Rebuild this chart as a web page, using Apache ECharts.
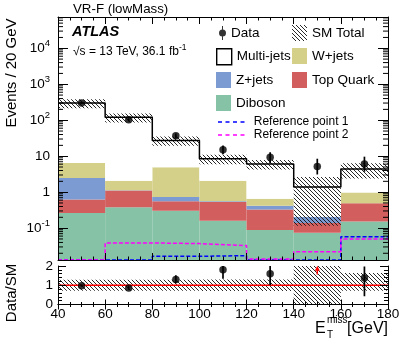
<!DOCTYPE html>
<html>
<head>
<meta charset="utf-8">
<script src="https://cdn.jsdelivr.net/npm/echarts@6/dist/echarts.min.js"></script>
<style>
html, body { margin: 0; padding: 0; background: #fff; }
#chart { width: 411px; height: 339px; }
</style>
</head>
<body>
<div id="chart"></div>
<script>
// bins of E_T^miss [GeV]
const binEdges = [40, 60, 80, 100, 120, 140, 160, 180];

// backgrounds (events per bin), stacked bottom -> top
const diboson  = [0.264, 0.378, 0.306, 0.161, 0.088, 0.074, 0.152];
const topQuark = [0.356, 0.742, 0.25, 0.372, 0.239, 0.065, 0.338];
const zjets    = [1.86, 0.01, 0.18, 0.022, 0.093, 0.067, 0.005];
const wjets    = [3.99, 0.96, 4.15, 1.53, 0.24, 0.0, 0.49];
const multijet = [293.5, 117.9, 22.6, 6.4, 5.4, 1.18, 3.4];
const smErr    = [84, 34, 8, 2.5, 1.8, 1.27, 2.0];

// data
const dataVals  = [300, 103, 37, 15.2, 9.3, 5.2, 6.1];
const dataErrUp = [17, 10, 6, 4.5, 3.5, 3.3, 3.6];
const dataErrDn = [17, 10, 6, 3.8, 2.9, 2.1, 2.4];

// signal reference points
const ref1 = [0.013, 0.013, 0.0165, 0.0172, 0.013, 0.013, 0.058];
const ref2 = [0.013, 0.0388, 0.0371, 0.0327, 0.0139, 0.0222, 0.050];

// ratio panel
const ratioVals   = [0.98, 0.86, 1.30, 1.80, 1.60, 3.7, 1.38];
const ratioErrUp  = [0.06, 0.09, 0.22, 0.46, 0.45, 0.6, 0.6];
const ratioErrDn  = [0.06, 0.09, 0.20, 0.46, 0.60, 0.6, 0.95];
const ratioBandUp = [0.28, 0.28, 0.28, 0.30, 0.30, 1.0, 0.63];
const ratioBandDn = [0.28, 0.28, 0.28, 0.30, 0.30, 1.0, 0.28];

const yMin = 0.013, yMax = 74000;
const rMin = 0, rMax = 2;
const FONT = 'Liberation Sans';
const nBins = binEdges.length - 1;
const centers = binEdges.slice(0, -1).map((e, i) => (e + binEdges[i + 1]) / 2);

// hatch pattern for the uncertainty bands
const hatch = (() => {
  const s = 4;
  const c = document.createElement('canvas');
  c.width = s; c.height = s;
  const g = c.getContext('2d');
  g.strokeStyle = '#111'; g.lineWidth = 0.9;
  g.beginPath();
  g.moveTo(-1, -1); g.lineTo(s + 1, s + 1);
  g.moveTo(-1, s - 1); g.lineTo(1, s + 1);
  g.moveTo(s - 1, -1); g.lineTo(s + 1, 1);
  g.stroke();
  return c;
})();
const hatchFill = { image: hatch, repeat: 'repeat' };

const dashIcon = 'path://M0,0h4v1.6h-4z M7.5,0h4v1.6h-4z M15,0h4v1.6h-4z M22.5,0h4v1.6h-4z';

const boxRenderer = fill => (params, api) => {
  const a = api.coord([api.value(0), api.value(3)]);
  const b = api.coord([api.value(1), api.value(2)]);
  return { type: 'rect', shape: { x: a[0], y: a[1], width: b[0] - a[0], height: b[1] - a[1] }, style: { fill: fill } };
};

const errRenderer = (params, api) => {
  const lo = api.coord([api.value(0), api.value(1)]);
  const hi = api.coord([api.value(0), api.value(2)]);
  return { type: 'line', shape: { x1: lo[0], y1: lo[1], x2: hi[0], y2: hi[1] }, style: { stroke: '#000', lineWidth: 1.7 } };
};

const arrowRenderer = (params, api) => {
  const x = api.value(0);
  const p0 = api.coord([x, api.value(1)]);
  const p1 = api.coord([x, api.value(2)]);
  return { type: 'group', children: [
    { type: 'line', shape: { x1: p0[0], y1: p0[1], x2: p1[0], y2: p1[1] + 3 }, style: { stroke: '#ff0000', lineWidth: 1.5 } },
    { type: 'polygon', shape: { points: [[p1[0] - 2.5, p1[1] + 4], [p1[0] + 2.5, p1[1] + 4], [p1[0], p1[1] - 1]] }, style: { fill: '#ff0000' } }
  ] };
};

const minorRenderer = (params, api) => {
  const cs = params.coordSys;
  const y = api.coord([binEdges[0], api.value(1)])[1];
  return { type: 'group', children: [
    { type: 'line', shape: { x1: cs.x, y1: y, x2: cs.x + 5, y2: y }, style: { stroke: '#000', lineWidth: 1 } },
    { type: 'line', shape: { x1: cs.x + cs.width - 5, y1: y, x2: cs.x + cs.width, y2: y }, style: { stroke: '#000', lineWidth: 1 } }
  ] };
};

// stacked backgrounds
const stackComps = [
  { name: 'Diboson', vals: diboson, color: '#86c2a5' },
  { name: 'Top Quark', vals: topQuark, color: '#d25e5e' },
  { name: 'Z+jets', vals: zjets, color: '#7b9bd2' },
  { name: 'W+jets', vals: wjets, color: '#d4d08a' },
  { name: 'Multi-jets', vals: multijet, color: '#ffffff' }
];
const cum = new Array(nBins).fill(0);
const stackSeries = stackComps.map(c => {
  const rows = [];
  for (let i = 0; i < nBins; i++) {
    const lo = cum[i] > 0 ? cum[i] : yMin;
    cum[i] += c.vals[i];
    rows.push([binEdges[i], binEdges[i + 1], lo, cum[i]]);
  }
  return {
    type: 'custom', name: c.name, xAxisIndex: 0, yAxisIndex: 0, clip: true, silent: true, z: 2,
    itemStyle: { color: c.color }, renderItem: boxRenderer(c.color), data: rows
  };
});
const smTotal = cum.slice();

const stepData = vals => vals.map((v, i) => [binEdges[i], v]).concat([[binEdges[nBins], vals[nBins - 1]]]);

const minorVals = [];
for (let e = -2; e <= 4; e++) {
  for (let m = 2; m <= 9; m++) {
    const v = m * Math.pow(10, e);
    if (v > yMin && v < yMax) minorVals.push([binEdges[0], v]);
  }
}

const supLabel = v => {
  const e = Math.round(Math.log10(v));
  if (e === 0) return '1';
  if (e === 1) return '10';
  return '10{sup|' + e + '}';
};

const tickText = { fontSize: 13.5, fontFamily: FONT, color: '#000' };

const xAxisBase = (grid, pos, showLabel, major, minor) => ({
  type: 'value', gridIndex: grid, position: pos, min: binEdges[0], max: binEdges[nBins], interval: 20, z: 10,
  axisLine: { show: true, lineStyle: { color: '#000', width: 1 } },
  axisTick: { show: true, inside: true, length: major, lineStyle: { color: '#000' } },
  minorTick: { show: true, splitNumber: 4, length: minor, lineStyle: { color: '#000' } },
  axisLabel: Object.assign({ show: showLabel, margin: 3 }, tickText),
  splitLine: { show: false }
});

const legendAt = (item, left, top, extra) => Object.assign({
  data: [item], left: left, top: top, itemWidth: 15, itemHeight: 16, padding: 0, selectedMode: false,
  textStyle: { fontSize: 13.5, fontFamily: FONT, color: '#000' }
}, extra || {});

const refLegendText = { fontSize: 12, fontFamily: FONT, color: '#000', padding: [0, 0, 0, 4] };

const option = {
  animation: false,
  backgroundColor: '#fff',
  grid: [
    { left: 58, top: 17, width: 330, height: 243 },
    { left: 58, top: 266, width: 330, height: 38.5 }
  ],
  xAxis: [
    xAxisBase(0, 'bottom', false, 7, 3.5),
    xAxisBase(0, 'top', false, 7, 3.5),
    xAxisBase(1, 'bottom', true, 5, 2.5),
    xAxisBase(1, 'top', false, 5, 2.5)
  ],
  yAxis: [
    {
      type: 'log', logBase: 10, gridIndex: 0, position: 'left', min: yMin, max: yMax, z: 10,
      axisLine: { show: true, lineStyle: { color: '#000', width: 1 } },
      axisTick: { show: true, inside: true, length: 10, lineStyle: { color: '#000' } },
      axisLabel: Object.assign({
        showMinLabel: false, showMaxLabel: false, margin: 8,
        formatter: supLabel,
        rich: { sup: { fontSize: 9.5, fontFamily: FONT, color: '#000', padding: [0, 0, 9, 0] } }
      }, tickText),
      splitLine: { show: false }
    },
    {
      type: 'log', logBase: 10, gridIndex: 0, position: 'right', min: yMin, max: yMax, z: 10,
      axisLine: { show: true, lineStyle: { color: '#000', width: 1 } },
      axisTick: { show: true, inside: true, length: 10, lineStyle: { color: '#000' } },
      axisLabel: { show: false },
      splitLine: { show: false }
    },
    {
      type: 'value', gridIndex: 1, position: 'left', min: rMin, max: rMax, interval: 1, z: 10,
      axisLine: { show: true, lineStyle: { color: '#000', width: 1 } },
      axisTick: { show: true, inside: true, length: 8, lineStyle: { color: '#000' } },
      minorTick: { show: true, splitNumber: 5, length: 4, lineStyle: { color: '#000' } },
      axisLabel: Object.assign({ margin: 5 }, tickText),
      splitLine: { show: false }
    },
    {
      type: 'value', gridIndex: 1, position: 'right', min: rMin, max: rMax, interval: 1, z: 10,
      axisLine: { show: true, lineStyle: { color: '#000', width: 1 } },
      axisTick: { show: true, inside: true, length: 8, lineStyle: { color: '#000' } },
      minorTick: { show: true, splitNumber: 5, length: 4, lineStyle: { color: '#000' } },
      axisLabel: { show: false },
      splitLine: { show: false }
    }
  ],
  legend: [
    legendAt({ name: 'Data', icon: 'path://M0,7a3.5,3.5 0 1,0 7,0a3.5,3.5 0 1,0 -7,0z M3,0h1v3.6h-1z M3,10.4h1v3.6h-1z', itemStyle: { color: '#000' } }, 219, 26, { itemWidth: 7, itemHeight: 14 }),
    legendAt({ name: 'SM Total', icon: 'rect', itemStyle: { color: hatchFill } }, 292, 25),
    legendAt({ name: 'Multi-jets', icon: 'rect', itemStyle: { color: '#fff', borderColor: '#000', borderWidth: 1.4 } }, 216, 48),
    legendAt({ name: 'W+jets', icon: 'rect', itemStyle: { color: '#d4d08a' } }, 292, 48),
    legendAt({ name: 'Z+jets', icon: 'rect', itemStyle: { color: '#7b9bd2' } }, 216, 72),
    legendAt({ name: 'Top Quark', icon: 'rect', itemStyle: { color: '#d25e5e' } }, 292, 72),
    legendAt({ name: 'Diboson', icon: 'rect', itemStyle: { color: '#86c2a5' } }, 216, 95),
    legendAt({ name: 'Reference point 1', icon: dashIcon, itemStyle: { color: '#0000ff' } }, 218, 116, { itemWidth: 27, itemHeight: 1.6, textStyle: refLegendText }),
    legendAt({ name: 'Reference point 2', icon: dashIcon, itemStyle: { color: '#ff00ff' } }, 218, 129, { itemWidth: 27, itemHeight: 1.6, textStyle: refLegendText })
  ],
  graphic: [
    { type: 'text', x: 73, y: 9, style: { text: 'VR-F (lowMass)', fontSize: 13.3, fontFamily: FONT, fill: '#000', align: 'left', verticalAlign: 'middle' } },
    { type: 'text', x: 72, y: 32, style: { text: 'ATLAS', fontSize: 14.5, fontWeight: 'bold', fontStyle: 'italic', fontFamily: FONT, fill: '#000', align: 'left', verticalAlign: 'middle' } },
    { type: 'text', x: 73, y: 52, style: { text: '\u221As = 13 TeV, 36.1 fb{sup|-1}', fontSize: 12, fontFamily: FONT, fill: '#000', align: 'left', verticalAlign: 'middle',
      rich: { sup: { fontSize: 8.5, fontFamily: FONT, fill: '#000', padding: [0, 0, 8, 0] } } } },
    { type: 'text', x: 12, y: 73, rotation: Math.PI / 2, style: { text: 'Events / 20 GeV', fontSize: 15, fontFamily: FONT, fill: '#000', align: 'center', verticalAlign: 'middle' } },
    { type: 'text', x: 12, y: 293, rotation: Math.PI / 2, style: { text: 'Data/SM', fontSize: 15, fontFamily: FONT, fill: '#000', align: 'center', verticalAlign: 'middle' } },
    { type: 'text', x: 315, y: 328.5, style: { text: 'E', fontSize: 16, fontFamily: FONT, fill: '#000', align: 'left', verticalAlign: 'middle' } },
    { type: 'text', x: 327, y: 320, style: { text: 'miss', fontSize: 10, fontFamily: FONT, fill: '#000', align: 'left', verticalAlign: 'middle' } },
    { type: 'text', x: 327, y: 335, style: { text: 'T', fontSize: 10, fontFamily: FONT, fill: '#000', align: 'left', verticalAlign: 'middle' } },
    { type: 'text', x: 388, y: 328.5, style: { text: '[GeV]', fontSize: 16, fontFamily: FONT, fill: '#000', align: 'right', verticalAlign: 'middle' } }
  ],
  series: stackSeries.concat([
    {
      type: 'custom', name: 'SM Total', xAxisIndex: 0, yAxisIndex: 0, clip: true, silent: true, z: 3,
      itemStyle: { color: '#000' }, renderItem: boxRenderer(hatchFill),
      data: smTotal.map((t, i) => [binEdges[i], binEdges[i + 1], Math.max(yMin, t - smErr[i]), t + smErr[i]])
    },
    {
      type: 'line', name: 'SM line', xAxisIndex: 0, yAxisIndex: 0, step: 'end', symbol: 'none', z: 4, silent: true,
      lineStyle: { color: '#000', width: 1.5 }, data: stepData(smTotal)
    },
    {
      type: 'line', name: 'Reference point 1', xAxisIndex: 0, yAxisIndex: 0, step: 'end', symbol: 'none', z: 4, silent: true,
      itemStyle: { color: '#0000ff' }, lineStyle: { color: '#0000ff', width: 1.5, type: [4, 2] }, data: stepData(ref1)
    },
    {
      type: 'line', name: 'Reference point 2', xAxisIndex: 0, yAxisIndex: 0, step: 'end', symbol: 'none', z: 4, silent: true,
      itemStyle: { color: '#ff00ff' }, lineStyle: { color: '#ff00ff', width: 1.5, type: [4, 2] }, data: stepData(ref2)
    },
    {
      type: 'custom', name: 'Data err', xAxisIndex: 0, yAxisIndex: 0, clip: true, silent: true, z: 5,
      renderItem: errRenderer,
      data: dataVals.map((v, i) => [centers[i], v - dataErrDn[i], v + dataErrUp[i]])
    },
    {
      type: 'scatter', name: 'Data', xAxisIndex: 0, yAxisIndex: 0, symbol: 'circle', symbolSize: 7.5, z: 6, silent: true,
      itemStyle: { color: '#000' }, data: dataVals.map((v, i) => [centers[i], v])
    },
    {
      type: 'custom', name: 'minor ticks', xAxisIndex: 0, yAxisIndex: 0, clip: true, silent: true, z: 11,
      renderItem: minorRenderer, data: minorVals
    },
    // ratio panel
    {
      type: 'custom', name: 'ratio band', xAxisIndex: 2, yAxisIndex: 2, clip: true, silent: true, z: 3,
      renderItem: boxRenderer(hatchFill),
      data: ratioBandUp.map((u, i) => [binEdges[i], binEdges[i + 1], Math.max(rMin, 1 - ratioBandDn[i]), Math.min(rMax, 1 + u)])
    },
    {
      type: 'line', name: 'unity', xAxisIndex: 2, yAxisIndex: 2, symbol: 'none', z: 4, silent: true,
      lineStyle: { color: '#ff0000', width: 1.5 }, data: [[binEdges[0], 1], [binEdges[nBins], 1]]
    },
    {
      type: 'custom', name: 'ratio err', xAxisIndex: 2, yAxisIndex: 2, clip: true, silent: true, z: 5,
      renderItem: errRenderer,
      data: ratioVals.map((v, i) => [centers[i], v - ratioErrDn[i], v + ratioErrUp[i]]).filter((r, i) => ratioVals[i] <= rMax)
    },
    {
      type: 'scatter', name: 'ratio', xAxisIndex: 2, yAxisIndex: 2, symbol: 'circle', symbolSize: 7.5, z: 6, silent: true,
      itemStyle: { color: '#000' }, data: ratioVals.map((v, i) => [centers[i], v]).filter(r => r[1] <= rMax)
    },
    {
      type: 'custom', name: 'ratio overflow', xAxisIndex: 2, yAxisIndex: 2, clip: false, silent: true, z: 6,
      renderItem: arrowRenderer,
      data: ratioVals.map((v, i) => [centers[i], rMin + 0.78 * (rMax - rMin), rMax - 0.02 * (rMax - rMin), v]).filter(r => r[3] > rMax)
    }
  ])
};

const chart = echarts.init(document.getElementById('chart'));
chart.setOption(option);
</script>
</body>
</html>
